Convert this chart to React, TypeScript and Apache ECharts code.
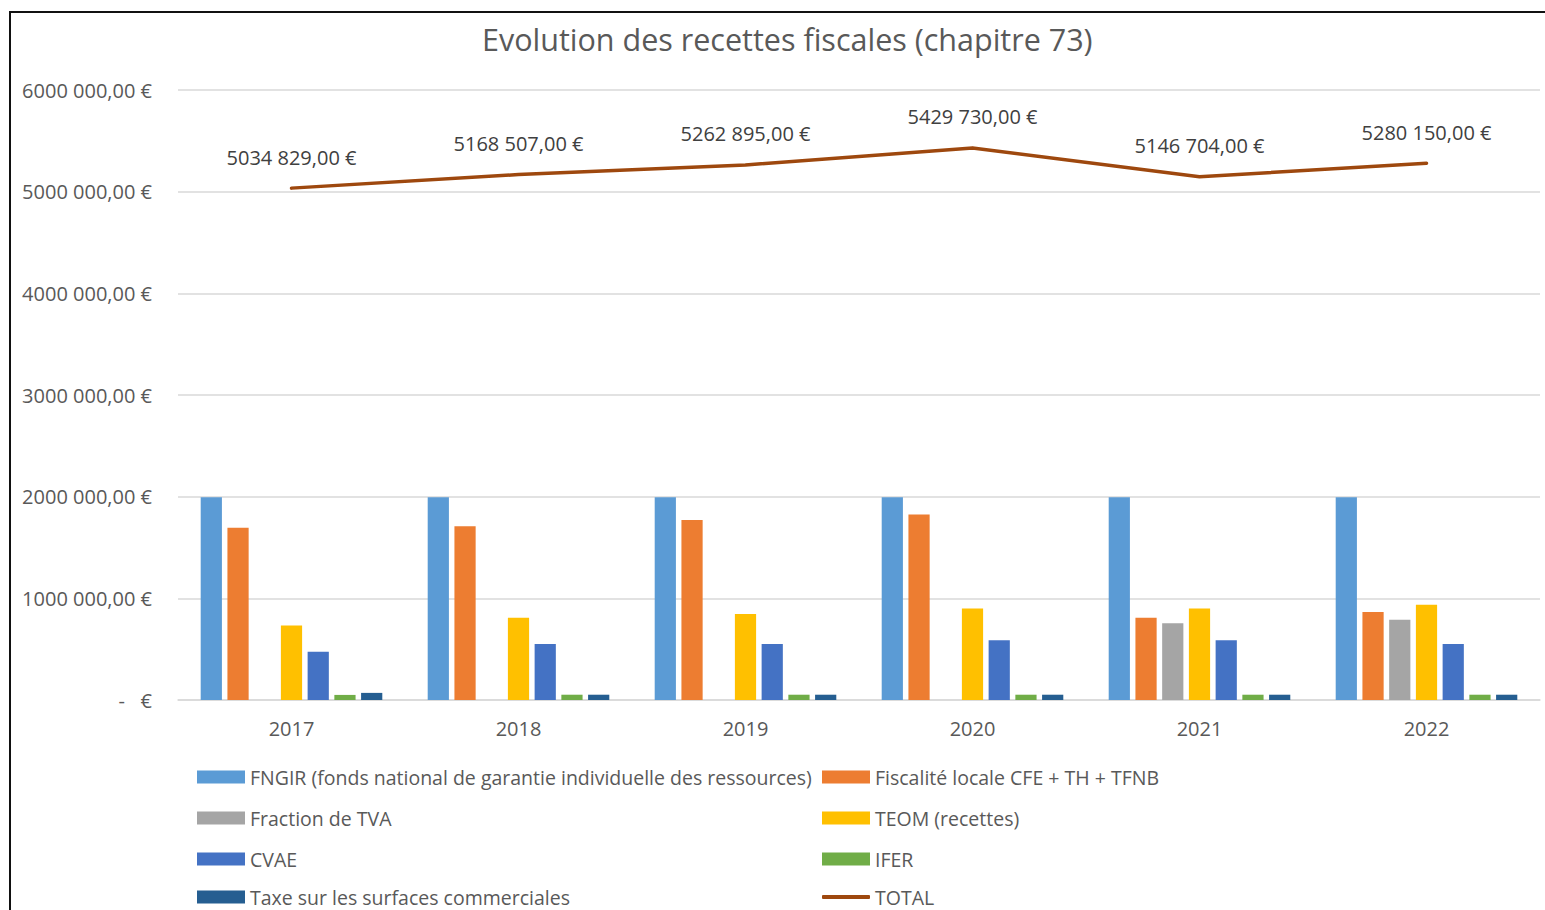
import React, { useEffect, useRef } from "react";
import * as echarts from "echarts";

const years = ["2017", "2018", "2019", "2020", "2021", "2022"];
const fngir = [1995000, 1995000, 1995000, 1995000, 1995000, 1995000];
const fiscaliteLocale = [1694000, 1710000, 1770000, 1825000, 810000, 865000];
const fractionTva = [null, null, null, null, 754000, 790000];
const teom = [734000, 810000, 845000, 900000, 900000, 937000];
const cvae = [475000, 550000, 550000, 587000, 587000, 550000];
const ifer = [50000, 52000, 52000, 52000, 52000, 52000];
const taxeSurfaces = [70000, 52000, 52000, 52000, 52000, 52000];
const total = [5034829, 5168507, 5262895, 5429730, 5146704, 5280150];

const barSeries = [
  { name: "FNGIR (fonds national de garantie individuelle des ressources)", data: fngir, color: "#5B9BD5" },
  { name: "Fiscalité locale CFE + TH + TFNB", data: fiscaliteLocale, color: "#ED7D31" },
  { name: "Fraction de TVA", data: fractionTva, color: "#A5A5A5" },
  { name: "TEOM (recettes)", data: teom, color: "#FFC000" },
  { name: "CVAE", data: cvae, color: "#4472C4" },
  { name: "IFER", data: ifer, color: "#70AD47" },
  { name: "Taxe sur les surfaces commerciales", data: taxeSurfaces, color: "#255E91" },
];
const totalName = "TOTAL";
const totalColor = "#9E480E";

const FONT = "'Open Sans', 'Liberation Sans', sans-serif";

function fmtEuro(v: number): string {
  if (v === 0) return "-   €";
  const r = Math.round(v);
  const thousands = Math.floor(r / 1000);
  const units = String(r % 1000).padStart(3, "0");
  return `${thousands} ${units},00 €`;
}

export default function App() {
  const ref = useRef<HTMLDivElement>(null);
  useEffect(() => {
    if (!ref.current) return;
    const chart = echarts.init(ref.current, undefined, { renderer: "svg" });

    const legendOrder = [
      barSeries[0].name, barSeries[1].name,
      barSeries[2].name, barSeries[3].name,
      barSeries[4].name, barSeries[5].name,
      barSeries[6].name, totalName,
    ];
    const rowTops = [767, 808, 849, 887];
    const legends = legendOrder.map((name, i) => {
      const col = i % 2;
      const row = Math.floor(i / 2);
      const isLine = name === totalName;
      return {
        orient: "horizontal",
        left: col === 0 ? 197 : 822,
        top: rowTops[row],
        padding: 0,
        itemWidth: 48,
        itemHeight: isLine ? 4 : 13,
        textStyle: { fontFamily: FONT, fontSize: 19.5, color: "#595959", lineHeight: 20 },
        data: [{ name, icon: isLine ? "roundRect" : "rect" }],
      };
    });

    chart.setOption({
      animation: false,
      backgroundColor: "#ffffff",
      title: {
        text: "Evolution des recettes fiscales (chapitre 73)",
        left: 477,
        top: 18,
        textStyle: { fontFamily: FONT, fontSize: 30.5, fontWeight: "normal", color: "#595959" },
      },
      graphic: [
        {
          type: "rect",
          shape: { x: 10, y: 12, width: 1600, height: 1000 },
          style: { fill: "none", stroke: "#111111", lineWidth: 2 },
          silent: true,
        },
      ],
      legend: legends,
      grid: { left: 178, right: 5, top: 90, bottom: 210, containLabel: false },
      xAxis: {
        type: "category",
        data: years,
        axisTick: { show: false },
        axisLine: { lineStyle: { color: "#D9D9D9", width: 1.5 } },
        axisLabel: { fontFamily: FONT, fontSize: 20, color: "#595959", margin: 18 },
      },
      yAxis: {
        type: "value",
        min: 0,
        max: 6000000,
        interval: 1000000,
        axisLine: { show: false },
        axisTick: { show: false },
        splitLine: { lineStyle: { color: "#D9D9D9", width: 1.5 } },
        axisLabel: { fontFamily: FONT, fontSize: 20, color: "#595959", margin: 26, formatter: (v: number) => fmtEuro(v) },
      },
      series: [
        ...barSeries.map((s) => ({
          name: s.name,
          type: "bar",
          data: s.data,
          barGap: "26%",
          barCategoryGap: "20%",
          itemStyle: { color: s.color },
        })),
        {
          name: totalName,
          type: "line",
          data: total,
          symbol: "circle",
          symbolSize: 2,
          showSymbol: true,
          z: 10,
          lineStyle: { color: totalColor, width: 3.5, cap: "round", join: "round" },
          itemStyle: { color: totalColor },
          label: {
            show: true,
            position: "top",
            distance: 20,
            fontFamily: FONT,
            fontSize: 20,
            color: "#404040",
            formatter: (p: any) => fmtEuro(p.value),
          },
        },
      ],
    });
    return () => chart.dispose();
  }, []);
  return <div ref={ref} style={{ position: "fixed", left: 0, top: 0, width: 1545, height: 910 }} />;
}
